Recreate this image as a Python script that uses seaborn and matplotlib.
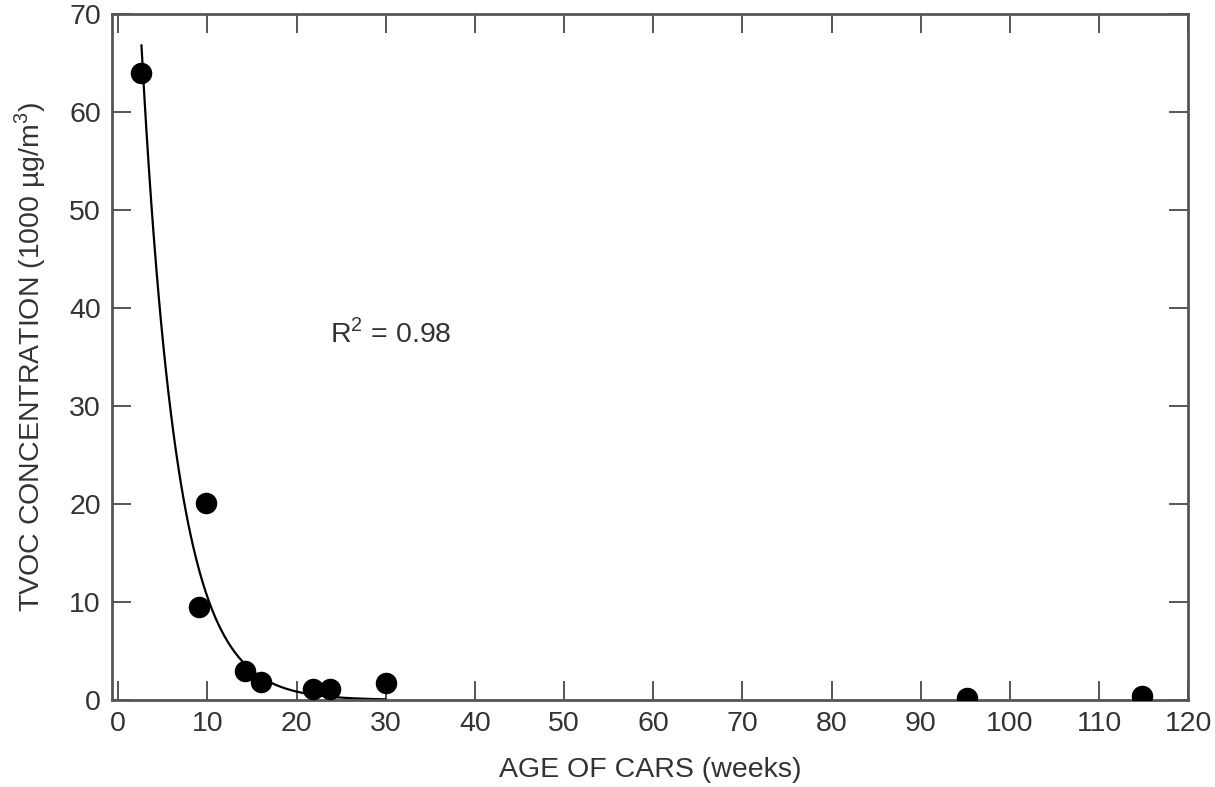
import numpy as np
import pandas as pd
import matplotlib
matplotlib.use("Agg")
import matplotlib.pyplot as plt
import seaborn as sns

# --- DATA ---
age_weeks = [2.6, 9, 9.8, 14.2, 16, 21.8, 23.8, 30, 95.2, 114.8]
tvoc_k = [64, 9.5, 20.1, 3.0, 1.8, 1.1, 1.1, 1.7, 0.2, 0.4]

# exponential fit shown in the figure: y = A * exp(-B * x), drawn from x=2.6 to x=30
FIT_A = 128.0
FIT_B = 0.25
FIT_RANGE = (2.6, 30)
R2_LABEL = "R$^2$ = 0.98"

x_ticks = list(range(0, 121, 10))
y_ticks = list(range(0, 71, 10))

TEXT_COLOR = "#333333"
SPINE_COLOR = "#555555"
FS = 20.5

sns.set_style("ticks")
plt.rcParams["font.family"] = ["Liberation Sans", "DejaVu Sans"]
plt.rcParams["mathtext.fontset"] = "custom"
plt.rcParams["mathtext.rm"] = "Liberation Sans"

df = pd.DataFrame({"age": age_weeks, "tvoc": tvoc_k})
fit_x = np.linspace(FIT_RANGE[0], FIT_RANGE[1], 200)
fit_df = pd.DataFrame({"age": fit_x, "tvoc": FIT_A * np.exp(-FIT_B * fit_x)})

fig = plt.figure(figsize=(12.15, 7.87), dpi=100)
ax = fig.add_axes([0.0922, 0.1105, 0.8858, 0.8717])

sns.lineplot(data=fit_df, x="age", y="tvoc", color="black", linewidth=1.6, ax=ax)
sns.scatterplot(data=df, x="age", y="tvoc", color="black", s=240,
                edgecolor="black", linewidth=0, ax=ax, zorder=3)

ax.text(23.7, 37.4, R2_LABEL, fontsize=FS, color=TEXT_COLOR, ha="left", va="center")

ax.set_xlim(-0.7, 120)
ax.set_ylim(0, 70)
ax.set_xticks(x_ticks)
ax.set_yticks(y_ticks)
ax.tick_params(direction="in", length=14, width=1.4, colors=SPINE_COLOR,
               labelcolor=TEXT_COLOR, labelsize=FS, top=True, right=True, pad=8)
for side in ["left", "right", "top", "bottom"]:
    ax.spines[side].set_visible(True)
    ax.spines[side].set_color(SPINE_COLOR)
    ax.spines[side].set_linewidth(2)

ax.set_xlabel("AGE OF CARS (weeks)", fontsize=FS, color=TEXT_COLOR, labelpad=14)
ax.set_ylabel("TVOC CONCENTRATION (1000 µg/m$^3$)", fontsize=FS, color=TEXT_COLOR, labelpad=15)

fig.savefig("out.png", dpi=100, facecolor="white")
